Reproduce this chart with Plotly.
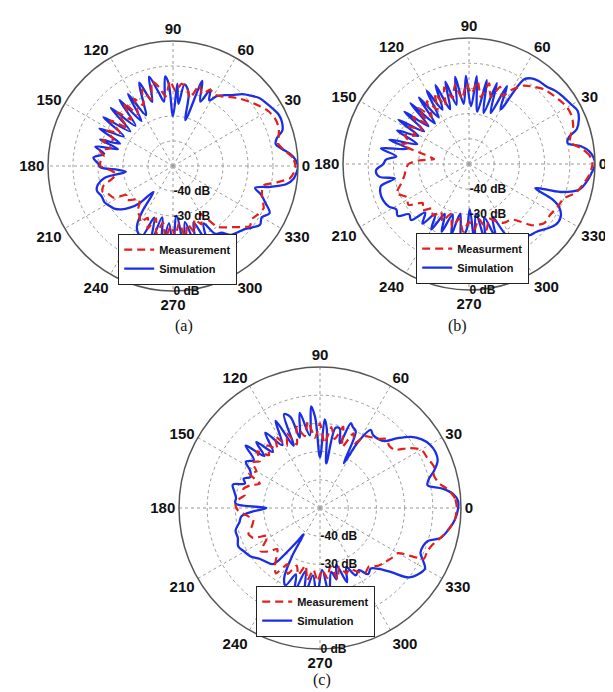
import plotly.graph_objects as go

ANG_TICKS = [0, 30, 60, 90, 120, 150, 180, 210, 240, 270, 300, 330]
R_TICKS = [-40, -30, -20, -10, 0]
R_LABELS = ["-40 dB", "-30 dB", "-20 dB", "-10 dB", "0 dB"]

# ---------- (a) ----------
a_sim_theta = [0, 3, 6, 9, 12, 15, 18, 22, 26, 30, 34, 38, 42, 46, 50, 54, 58, 61, 64, 67, 71, 75, 78, 82, 85, 87, 90, 93, 95, 98, 101, 105, 108, 112, 115, 118, 122, 125, 129, 133, 137, 141, 145, 149, 153, 157, 160, 163, 166, 170, 174, 178, 181, 184, 187, 190, 194, 198, 203, 208, 212, 216, 220, 224, 228, 233, 236, 239, 242, 246, 250, 254, 258, 262, 266, 270, 274, 278, 282, 286, 290, 294, 298, 302, 306, 310, 314, 318, 322, 326, 330, 334, 338, 342, 345, 348, 351, 354, 357, 360]
a_sim_db = [0, -1, -3, -6, -8, -7, -4, -3, -3, -4, -5, -6, -8, -10, -13, -15, -17, -20, -16, -22, -14, -31, -20, -17, -25, -17, -30, -17, -14, -24, -20, -13, -23, -14, -22, -27, -16, -28, -16, -28, -16, -28, -16, -27, -17, -27, -19, -27, -18, -22, -18, -20, -21, -28, -31, -22, -19, -18, -19, -19, -20, -21, -23, -26, -30, -37, -28, -22, -20, -19, -28, -17, -29, -15, -27, -16, -30, -15, -27, -16, -26, -17, -24, -18, -17, -14, -13, -12, -10, -8, -9, -7, -10, -13, -16, -10, -4, -1.5, -0.5, 0]
a_meas_theta = [0, 4, 8, 12, 16, 20, 25, 30, 35, 40, 45, 50, 55, 60, 64, 68, 72, 76, 80, 84, 88, 92, 96, 100, 104, 108, 112, 116, 120, 124, 128, 132, 136, 140, 144, 148, 152, 156, 160, 164, 168, 172, 176, 180, 184, 188, 192, 196, 200, 204, 208, 212, 216, 220, 224, 228, 232, 236, 240, 244, 248, 252, 256, 260, 264, 268, 272, 276, 280, 284, 288, 292, 296, 300, 306, 314, 322, 326, 330, 335, 340, 344, 348, 351, 354, 357, 360]
a_meas_db = [-1, -2, -5, -7, -6, -5, -5, -6, -8, -10, -12, -14, -16, -17, -16, -19, -16, -22, -18, -17, -20, -16, -22, -18, -15, -22, -17, -23, -19, -25, -18, -25, -19, -26, -19, -25, -20, -24, -20, -24, -20, -22, -21, -21, -25, -27, -25, -21, -20, -22, -23, -28, -27, -29, -31, -30, -27, -26, -24, -27, -23, -28, -22, -27, -21, -26, -22, -27, -21, -26, -22, -27, -24, -28, -20, -16, -11, -12, -11, -10, -12, -13, -13, -8, -3, -1.5, -1]

# ---------- (b) ----------
b_sim_theta = [0, 3, 6, 9, 12, 15, 18, 22, 26, 30, 35, 40, 45, 50, 54, 57, 60, 64, 67, 71, 74, 78, 81, 85, 88, 92, 95, 99, 102, 106, 109, 113, 116, 120, 123, 127, 130, 134, 137, 141, 144, 148, 151, 155, 159, 163, 166, 170, 174, 177, 180, 184, 188, 191, 194, 198, 203, 208, 212, 216, 220, 224, 228, 232, 236, 240, 244, 248, 252, 256, 260, 264, 268, 271, 274, 278, 282, 286, 290, 294, 298, 302, 306, 310, 315, 320, 325, 330, 334, 337, 340, 343, 347, 351, 355, 360]
b_sim_db = [0, -0.5, -2, -5, -10, -9, -5, -3, -2, -3, -4, -5, -6.5, -7, -8, -10, -25, -15.6, -28, -16, -29, -16, -29, -15, -27, -15, -26, -15, -26, -16, -27, -16, -26, -16.5, -28, -17, -29, -16.5, -28, -17, -28, -17, -27, -18.5, -28, -17, -25, -14.5, -21, -17, -16, -13, -14, -20, -14, -13, -13, -14, -16, -15, -19, -18, -24, -20, -26, -20, -28, -21, -29, -21, -30, -20, -24, -32, -18, -30, -18, -28, -19, -27, -18, -17, -15, -13, -12, -10, -8, -8, -10, -14, -22, -12, -5, -3, -1.5, 0]
b_meas_theta = [0, 4, 8, 12, 16, 20, 25, 30, 35, 40, 45, 50, 55, 60, 64, 68, 72, 76, 80, 84, 88, 92, 96, 100, 104, 108, 112, 116, 120, 124, 128, 132, 136, 140, 144, 148, 152, 156, 160, 164, 168, 172, 176, 180, 184, 190, 196, 202, 208, 214, 220, 225, 230, 235, 240, 245, 250, 255, 260, 265, 270, 275, 280, 285, 290, 295, 300, 308, 316, 322, 328, 334, 340, 345, 350, 355, 360]
b_meas_db = [-1, -2, -5, -9, -8, -6, -5, -5, -6, -7, -8, -10, -12, -16, -20, -17, -22, -17, -23, -17, -22, -18, -24, -18, -23, -18, -25, -19, -25, -20, -26, -20, -27, -21, -27, -22, -26, -22, -25, -22, -32, -36, -30, -26, -25, -24, -22, -19, -22, -21, -26, -24, -27, -25, -28, -25, -29, -24, -28, -23, -27, -24, -28, -23, -27, -25, -23, -22, -15, -12, -12, -11, -10, -6, -4, -2, -1]

# ---------- (c) ----------
c_sim_theta = [0, 3, 6, 9, 12, 15, 18, 22, 26, 30, 34, 38, 42, 46, 50, 54, 57, 60, 62, 65, 68, 70, 73, 76, 79, 82, 85, 87, 90, 93, 95, 98, 102, 106, 108, 111, 113, 117, 121, 126, 130, 134, 137, 140, 144, 148, 152, 156, 159, 162, 165, 169, 173, 177, 180, 183, 186, 190, 195, 200, 205, 210, 215, 220, 225, 230, 233, 236, 238, 240, 243, 246, 250, 253, 257, 260, 264, 268, 272, 276, 280, 283, 286, 290, 294, 298, 302, 306, 310, 314, 318, 322, 326, 330, 333, 336, 340, 343, 346, 350, 355, 360]
c_sim_db = [-1, -1, -2.5, -6, -11, -10, -7.5, -5, -4.5, -5, -6.5, -9, -13, -17, -18, -18, -17, -23, -32, -20, -19, -18, -26, -21, -21, -34, -22, -18.5, -32, -18, -13.8, -24, -15.5, -24, -16, -14.4, -26, -15.3, -24, -17, -24, -17.5, -23, -15.6, -21, -19, -22, -23, -21, -22, -18, -19, -20, -20, -31, -26, -22, -21, -19, -19, -18, -19, -20, -22, -23, -24, -30, -36, -39, -30, -22, -20, -25, -19, -27, -18, -26, -18, -28, -19, -27, -24, -29, -22, -27, -23, -24, -21, -22, -20, -16, -10, -8, -7, -9, -11, -11, -10, -6, -4, -2, -1]
c_meas_theta = [0, 4, 8, 12, 16, 20, 25, 30, 34, 38, 42, 46, 50, 54, 58, 62, 66, 70, 74, 78, 82, 86, 90, 94, 98, 102, 106, 110, 114, 118, 122, 126, 130, 134, 138, 142, 146, 150, 154, 158, 162, 166, 170, 174, 178, 182, 186, 190, 195, 200, 204, 208, 212, 216, 220, 224, 228, 232, 236, 240, 244, 248, 252, 256, 260, 264, 268, 272, 276, 280, 284, 288, 292, 296, 300, 305, 310, 315, 320, 325, 330, 334, 338, 342, 346, 350, 355, 360]
c_meas_db = [-1.5, -2, -4, -7, -8, -7, -8, -8.5, -12, -16.5, -17, -16, -18, -19, -20, -24, -21, -27, -20, -25, -21, -27, -20, -25, -19, -24, -20, -26, -21, -25, -20, -24, -21, -24, -20, -23, -21, -24, -22, -27, -24, -22, -23, -21, -20, -21, -24, -26, -25, -23, -24, -29, -27, -24, -26, -29, -27, -24, -22, -27, -24, -28, -25, -29, -24, -28, -24, -28, -25, -29, -24, -28, -25, -26, -24, -22, -23, -21, -20, -19, -18, -9, -9, -8, -6, -4, -2, -1.5]

RED = "#e0201c"
BLUE = "#1a2ee6"
BOLD = dict(family="Liberation Sans, Arial, sans-serif", color="#111111", weight="bold")

fig = go.Figure()

panels = [
    ("polar", "legend", a_meas_theta, a_meas_db, a_sim_theta, a_sim_db, "Measurement"),
    ("polar2", "legend2", b_meas_theta, b_meas_db, b_sim_theta, b_sim_db, "Measurment"),
    ("polar3", "legend3", c_meas_theta, c_meas_db, c_sim_theta, c_sim_db, "Measurement"),
]
for sp, lg, mt, mr, st, sr, mname in panels:
    fig.add_trace(go.Scatterpolar(theta=st, r=sr, mode="lines", name="Simulation",
                                  line=dict(color=BLUE, width=2.3, shape="spline", smoothing=1.0),
                                  subplot=sp, legend=lg, legendrank=2))
    fig.add_trace(go.Scatterpolar(theta=mt, r=mr, mode="lines", name=mname,
                                  line=dict(color=RED, width=2.2, dash="8px,5px", shape="spline", smoothing=0.6),
                                  subplot=sp, legend=lg, legendrank=1))


def polar_cfg(dx, dy):
    return dict(
        domain=dict(x=dx, y=dy),
        bgcolor="white",
        angularaxis=dict(rotation=0, direction="counterclockwise", tickmode="array",
                         tickvals=ANG_TICKS, ticktext=[str(t) for t in ANG_TICKS],
                         showline=True, linecolor="#555555", linewidth=1.5,
                         showgrid=True, gridcolor="#9a9a9a", griddash="dot", gridwidth=1,
                         ticks="", ticklen=0, tickfont=dict(size=15, **BOLD)),
        radialaxis=dict(range=[-50, 0], tickmode="array", tickvals=R_TICKS, ticktext=R_LABELS,
                        angle=270, tickangle=-90, side="counterclockwise",
                        showline=False, ticks="", ticklen=0,
                        gridcolor="#9a9a9a", griddash="dot", gridwidth=1,
                        tickfont=dict(size=12, **BOLD)),
    )


W, H = 613, 692
def dom(cx, cy, r):
    return [(cx - r) / W, (cx + r) / W], [1 - (cy + r) / H, 1 - (cy - r) / H]

ax, ay = dom(165, 158, 125)
bx, by = dom(461, 156, 126)
cx_, cy_ = dom(312, 500, 141)

def legend_cfg(x, y):
    return dict(x=x / W, y=1 - y / H, xanchor="left", yanchor="top", bgcolor="white",
                bordercolor="#222222", borderwidth=1.2, font=dict(size=11, **BOLD),
                tracegroupgap=0, itemwidth=30)

fig.update_layout(
    width=W, height=H, margin=dict(l=0, r=0, t=0, b=0),
    paper_bgcolor="white", plot_bgcolor="white", showlegend=True,
    polar=polar_cfg(ax, ay), polar2=polar_cfg(bx, by), polar3=polar_cfg(cx_, cy_),
    legend=legend_cfg(110, 226), legend2=legend_cfg(408, 225), legend3=legend_cfg(248, 578),
    annotations=[
        dict(text="(a)", x=165 / W, y=1 - 318 / H, xref="paper", yref="paper", showarrow=False,
             font=dict(family="Liberation Serif, Times New Roman, serif", size=16, color="#111")),
        dict(text="(b)", x=461 / W, y=1 - 318 / H, xref="paper", yref="paper", showarrow=False,
             font=dict(family="Liberation Serif, Times New Roman, serif", size=16, color="#111")),
        dict(text="(c)", x=314 / W, y=1 - 683 / H, xref="paper", yref="paper", showarrow=False,
             font=dict(family="Liberation Serif, Times New Roman, serif", size=16, color="#111")),
    ],
)

fig.write_html("out.html")
